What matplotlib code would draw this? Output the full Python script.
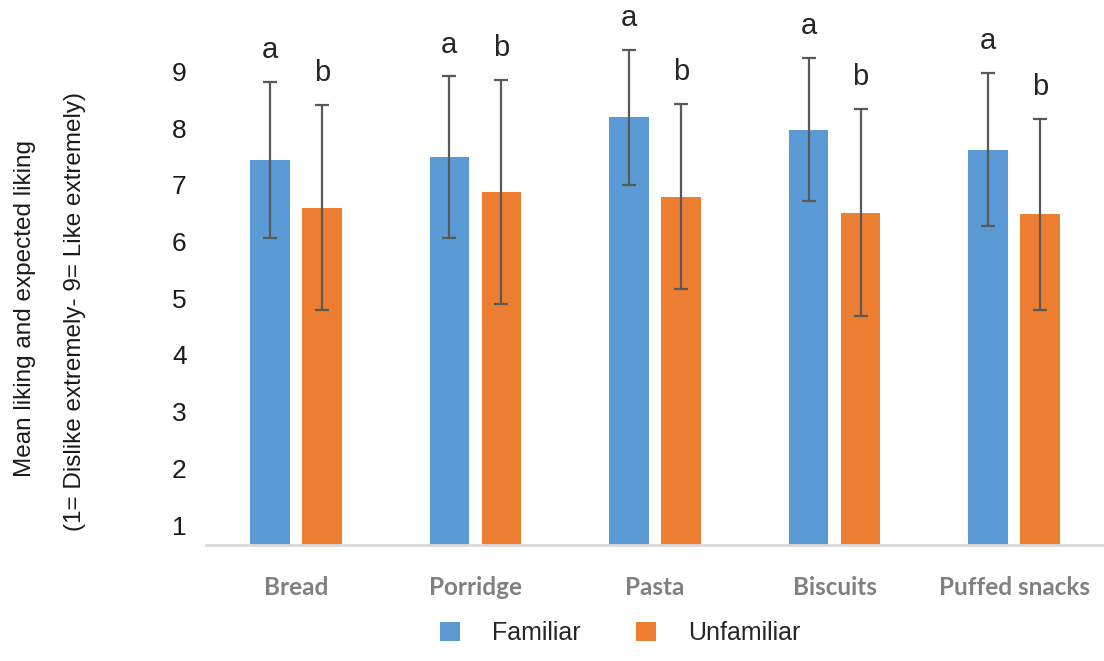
import matplotlib.pyplot as plt
import numpy as np

# ===== data =====
categories = ["Bread", "Porridge", "Pasta", "Biscuits", "Puffed snacks"]
familiar = [7.44, 7.49, 8.19, 7.97, 7.62]
familiar_err = [1.38, 1.42, 1.19, 1.26, 1.35]
unfamiliar = [6.60, 6.87, 6.79, 6.51, 6.48]
unfamiliar_err = [1.81, 1.98, 1.63, 1.82, 1.68]
letters_fam = ["a", "a", "a", "a", "a"]
letters_unfam = ["b", "b", "b", "b", "b"]
yticks = [1, 2, 3, 4, 5, 6, 7, 8, 9]

blue = "#5B9BD5"
orange = "#ED7D31"
errcol = "#595959"

fig = plt.figure(figsize=(11.04, 6.61), dpi=100)
ax = fig.add_axes([0.1866, 0.1755, 0.8134, 0.768])

x = np.arange(len(categories))
w = 0.22
off = 0.145
bottom = 0.65

err_kw = dict(ecolor=errcol, elinewidth=1.6, capsize=5, capthick=1.6)
ax.bar(x - off, np.array(familiar) - bottom, w, bottom=bottom, color=blue,
       yerr=familiar_err, error_kw=err_kw, label="Familiar")
ax.bar(x + off, np.array(unfamiliar) - bottom, w, bottom=bottom, color=orange,
       yerr=unfamiliar_err, error_kw=err_kw, label="Unfamiliar")

# letters over the error bars
for i in range(len(categories)):
    ax.annotate(letters_fam[i], (x[i] - off, familiar[i] + familiar_err[i]),
                xytext=(0, 23), textcoords="offset points", ha="center",
                va="center", fontsize=21, color="#262626",
                family="Liberation Sans", annotation_clip=False)
    ax.annotate(letters_unfam[i], (x[i] + off, unfamiliar[i] + unfamiliar_err[i]),
                xytext=(0, 23), textcoords="offset points", ha="center",
                va="center", fontsize=21, color="#262626",
                family="Liberation Sans", annotation_clip=False)

ax.set_xlim(-0.5, len(categories) - 0.5)
ax.set_ylim(bottom, 9.6)
ax.set_yticks(yticks)
ax.set_yticklabels([str(t) for t in yticks], fontsize=19,
                   family="Liberation Sans", color="#1a1a1a")
ax.set_xticks(x)
ax.set_xticklabels(categories, fontsize=17.5, family="Lato", weight="bold",
                   color="#808080")
ax.tick_params(axis="y", length=0, pad=14)
ax.tick_params(axis="x", length=0, pad=22)

for s in ["top", "right", "left"]:
    ax.spines[s].set_visible(False)
ax.spines["bottom"].set_color("#d9d9d9")
ax.spines["bottom"].set_linewidth(2)

# titre de l'axe y, deux lignes
fig.text(0.023, 0.534, "Mean liking and expected liking", rotation=90,
         ha="center", va="center", fontsize=17.5, family="Liberation Sans",
         color="#1a1a1a")
fig.text(0.068, 0.528, "(1= Dislike extremely- 9= Like extremely)", rotation=90,
         ha="center", va="center", fontsize=17.5, family="Liberation Sans",
         color="#1a1a1a")

leg = fig.legend(loc="center", bbox_to_anchor=(0.562, 0.042), ncol=2,
                 frameon=False, prop={"family": "Liberation Sans", "size": 18},
                 handlelength=0.8, handleheight=0.8, handletextpad=1.3,
                 columnspacing=2.2)
for t in leg.get_texts():
    t.set_color("#262626")

fig.savefig("out.png", dpi=100)
